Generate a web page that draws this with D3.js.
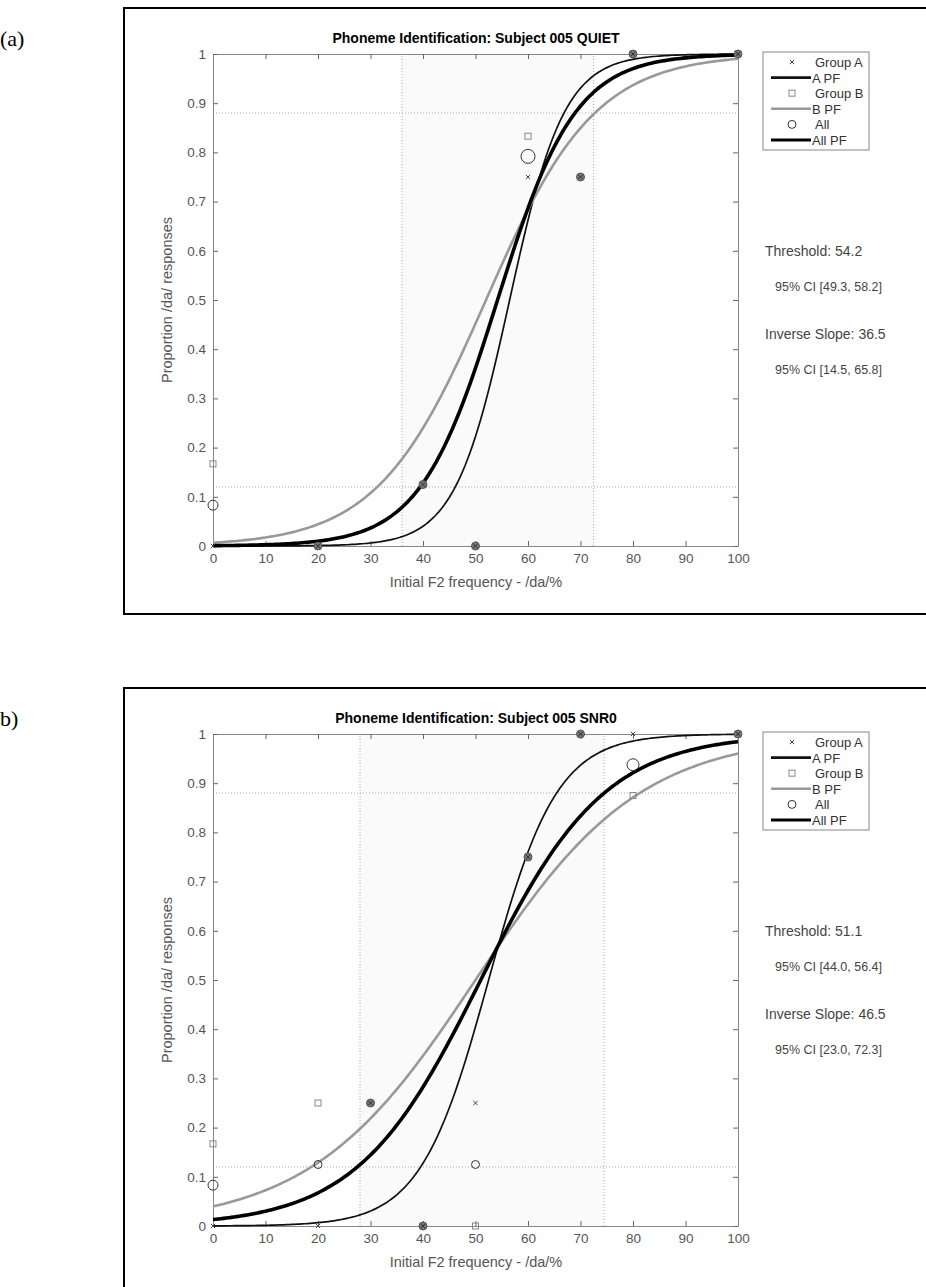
<!DOCTYPE html>
<html>
<head>
<meta charset="utf-8">
<script src="https://cdn.jsdelivr.net/npm/d3@7"></script>
<style>
  body { margin: 0; background: #fff; }
  text { font-family: "Liberation Sans", Arial, sans-serif; }
</style>
</head>
<body>
<svg id="chart" width="926" height="1287"></svg>
<script>
// stimulus levels (x)
var levels = [0, 20, 40, 50, 60, 70, 80, 100];
var levelsB = [0, 20, 30, 40, 50, 60, 70, 80, 100];

// panel (a) QUIET
var aGroupA = [0, 0, 0.125, 0, 0.75, 0.75, 1, 1];
var aGroupB = [0.167, 0, 0.125, 0, 0.833, 0.75, 1, 1];
var aAll = [0.083, 0, 0.125, 0, 0.792, 0.75, 1, 1];
var aAllSize = [5, 4, 5, 4, 7, 4, 4, 4];
// logistic fits: [threshold, spread] for A PF, B PF, All PF
var aFits = [[56.5, 5.2], [52, 10.4], [54.2, 7.4]];
var aCI = [36, 72.5];

// panel (b) SNR0
var bGroupA = [0, 0, 0.25, 0, 0.25, 0.75, 1, 1, 1];
var bGroupB = [0.167, 0.25, 0.25, 0, 0, 0.75, 1, 0.875, 1];
var bAll = [0.083, 0.125, 0.25, 0, 0.125, 0.75, 1, 0.9375, 1];
var bAllSize = [5, 4, 4, 4, 4, 6, 4, 6, 4];
var bFits = [[52.5, 6.5], [50, 15.7], [51, 11.8]];
var bCI = [28, 74.5];

var guideLevels = [0.12, 0.88];
var legendLabels = ["Group A", "A PF", "Group B", "B PF", "All", "All PF"];

var svg = d3.select("#chart");

function drawPanel(top, label, title, xs, gA, gB, all, allSize, fits, ci, stats) {
  var g = svg.append("g").attr("transform", "translate(0," + top + ")");

  // outer frame
  g.append("rect").attr("x", 124).attr("y", 8).attr("width", 900).attr("height", 606)
    .attr("fill", "none").attr("stroke", "#000").attr("stroke-width", 2);

  g.append("text").attr("x", 0).attr("y", 46).attr("font-size", 22)
    .style("font-family", "'Liberation Serif', serif").text(label);

  var x = d3.scaleLinear().domain([0, 100]).range([213, 738]);
  var y = d3.scaleLinear().domain([0, 1]).range([546, 54]);

  // CI band
  g.append("rect").attr("x", x(ci[0])).attr("y", y(1)).attr("width", x(ci[1]) - x(ci[0]))
    .attr("height", y(0) - y(1)).attr("fill", "#fafafa");
  ci.forEach(function (c) {
    g.append("line").attr("x1", x(c)).attr("x2", x(c)).attr("y1", y(0)).attr("y2", y(1))
      .attr("stroke", "#aaa").attr("stroke-dasharray", "1,2");
  });
  guideLevels.forEach(function (c) {
    g.append("line").attr("x1", x(0)).attr("x2", x(100)).attr("y1", y(c)).attr("y2", y(c))
      .attr("stroke", "#aaa").attr("stroke-dasharray", "1,2");
  });

  // axes
  var xTicks = d3.range(0, 101, 10), yTicks = d3.range(0, 1.01, 0.1);
  var axes = [
    d3.axisBottom(x).tickValues(xTicks).tickSize(-5).tickPadding(7),
    d3.axisTop(x).tickValues(xTicks).tickSize(-5).tickFormat(""),
    d3.axisLeft(y).tickValues(yTicks).tickSize(-5).tickPadding(7).tickFormat(d3.format("~g")),
    d3.axisRight(y).tickValues(yTicks).tickSize(-5).tickFormat("")
  ];
  var pos = ["translate(0," + y(0) + ")", "translate(0," + y(1) + ")",
             "translate(" + x(0) + ",0)", "translate(" + x(100) + ",0)"];
  axes.forEach(function (a, i) {
    var ag = g.append("g").attr("transform", pos[i]).call(a);
    ag.select(".domain").attr("stroke", "#888");
    ag.selectAll(".tick line").attr("stroke", "#666");
    ag.selectAll("text").attr("fill", "#555").attr("font-size", 13.5)
      .style("font-family", "'Liberation Sans', Arial, sans-serif");
  });

  g.append("text").attr("x", 476).attr("y", 43).attr("text-anchor", "middle")
    .attr("font-size", 14).attr("font-weight", "bold").text(title);
  g.append("text").attr("x", 476).attr("y", 587).attr("text-anchor", "middle")
    .attr("font-size", 14.5).attr("fill", "#555").text("Initial F2 frequency - /da/%");
  g.append("text").attr("transform", "translate(172," + y(0.5) + ") rotate(-90)")
    .attr("text-anchor", "middle").attr("font-size", 14.5).attr("fill", "#555")
    .text("Proportion /da/ responses");

  // fitted curves
  var grid = d3.range(0, 100.5, 0.5);
  var styles = [["#111", 1.7], ["#999", 2.6], ["#000", 3.6]];
  var line = d3.line().x(function (d) { return x(d[0]); }).y(function (d) { return y(d[1]); });
  fits.forEach(function (f, i) {
    var pts = grid.map(function (v) { return [v, 1 / (1 + Math.exp(-(v - f[0]) / f[1]))]; });
    g.append("path").datum(pts).attr("d", line).attr("fill", "none")
      .attr("stroke", styles[i][0]).attr("stroke-width", styles[i][1]);
  });

  // markers
  xs.forEach(function (v, i) {
    var cx = x(v);
    if (gA[i] === gB[i] && gB[i] === all[i]) {
      g.append("circle").attr("cx", cx).attr("cy", y(all[i])).attr("r", 4)
        .attr("fill", "#777").attr("stroke", "#555");
      g.append("path").attr("d", d3.symbol(d3.symbolX, 14)())
        .attr("transform", "translate(" + cx + "," + y(gA[i]) + ")").attr("stroke", "#333");
      return;
    }
    g.append("path").attr("d", d3.symbol(d3.symbolX, 14)())
      .attr("transform", "translate(" + cx + "," + y(gA[i]) + ")")
      .attr("stroke", "#444").attr("fill", "none");
    g.append("rect").attr("x", cx - 3).attr("y", y(gB[i]) - 3).attr("width", 6).attr("height", 6)
      .attr("fill", "none").attr("stroke", "#888");
    g.append("circle").attr("cx", cx).attr("cy", y(all[i])).attr("r", allSize[i])
      .attr("fill", "none").attr("stroke", "#333");
  });

  // legend
  g.append("rect").attr("x", 763).attr("y", 52).attr("width", 106).attr("height", 98)
    .attr("fill", "#fff").attr("stroke", "#888");
  legendLabels.forEach(function (t, i) {
    var ly = 62 + i * 15.6;
    g.append("text").attr("x", i % 2 ? 812 : 815).attr("y", ly + 5).attr("font-size", 13)
      .attr("fill", "#333").text(t);
    if (i % 2) {
      var s = styles[(i - 1) / 2];
      g.append("line").attr("x1", 771).attr("x2", 811).attr("y1", ly).attr("y2", ly)
        .attr("stroke", s[0]).attr("stroke-width", i === 3 ? 2.4 : 2.8);
    } else if (i === 0) {
      g.append("path").attr("d", d3.symbol(d3.symbolX, 14)())
        .attr("transform", "translate(792," + ly + ")").attr("stroke", "#444");
    } else if (i === 2) {
      g.append("rect").attr("x", 789).attr("y", ly - 3).attr("width", 6).attr("height", 6)
        .attr("fill", "none").attr("stroke", "#888");
    } else {
      g.append("circle").attr("cx", 792).attr("cy", ly).attr("r", 4)
        .attr("fill", "none").attr("stroke", "#333");
    }
  });

  // statistics text
  var st = [["Threshold: " + stats[0], 765, 256], ["95% CI [" + stats[1] + "]", 775, 291],
            ["Inverse Slope: " + stats[2], 765, 339], ["95% CI [" + stats[3] + "]", 775, 374]];
  st.forEach(function (s, i) {
    g.append("text").attr("x", s[1]).attr("y", s[2]).attr("font-size", i % 2 ? 12.5 : 14)
      .attr("fill", "#444").text(s[0]);
  });
}

drawPanel(0, "(a)", "Phoneme Identification: Subject 005 QUIET", levels,
  aGroupA, aGroupB, aAll, aAllSize, aFits, aCI, ["54.2", "49.3, 58.2", "36.5", "14.5, 65.8"]);
drawPanel(680, "b)", "Phoneme Identification: Subject 005 SNR0", levelsB,
  bGroupA, bGroupB, bAll, bAllSize, bFits, bCI, ["51.1", "44.0, 56.4", "46.5", "23.0, 72.3"]);
</script>
</body>
</html>
